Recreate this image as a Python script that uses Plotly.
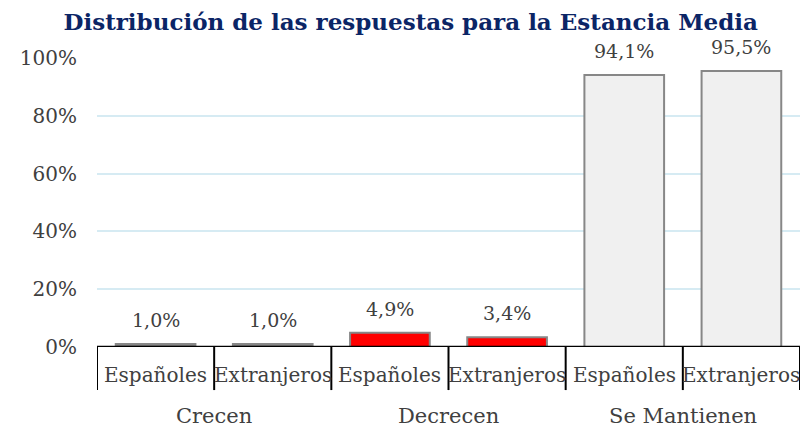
import plotly.graph_objects as go

groups = ["Crecen", "Decrecen", "Se Mantienen"]
subgroups = ["Españoles", "Extranjeros"]
values = [1.0, 1.0, 4.9, 3.4, 94.1, 95.5]
group_colors = ["#7f7f7f", "#ff0000", "#f0f0f0"]
y_ticks = [0, 20, 40, 60, 80, 100]

FONT = "DejaVu Serif"
TXT = "#404040"
n_sub = len(subgroups)
x_pos = list(range(len(values)))
sub_labels = [subgroups[i % n_sub] for i in x_pos]
colors = [group_colors[i // n_sub] for i in x_pos]
texts = [f"{v:.1f}%".replace(".", ",") for v in values]

fig = go.Figure(go.Bar(
    x=x_pos, y=values, width=0.68,
    marker=dict(color=colors, line=dict(color="#878787", width=2)),
    cliponaxis=False,
))

shapes = []
for i in range(len(values) + 1):
    shapes.append(dict(type="line", xref="x", yref="paper",
                       x0=i - 0.5, x1=i - 0.5, y0=0, y1=-0.149,
                       line=dict(color="black", width=2)))
shapes.append(dict(type="line", xref="x", yref="y", x0=-0.5, x1=len(values) - 0.5,
                   y0=0, y1=0, line=dict(color="black", width=2.5)))

annotations = []
for xi, v, t in zip(x_pos, values, texts):
    annotations.append(dict(x=xi, xref="x", y=v, yref="y", text=t, showarrow=False,
                            yanchor="bottom", yshift=11,
                            font=dict(family=FONT, size=19, color=TXT)))
for xi, s in zip(x_pos, sub_labels):
    annotations.append(dict(x=xi, xref="x", y=-0.097, yref="paper", text=s,
                            showarrow=False, yanchor="middle",
                            font=dict(family=FONT, size=20, color=TXT)))
for gi, g in enumerate(groups):
    annotations.append(dict(x=gi * n_sub + (n_sub - 1) / 2, xref="x", y=-0.238, yref="paper",
                            text=g, showarrow=False, yanchor="middle",
                            font=dict(family=FONT, size=21, color=TXT)))

fig.update_layout(
    width=812, height=434,
    margin=dict(l=89, r=20, t=50, b=95),
    paper_bgcolor="white", plot_bgcolor="white",
    title=dict(text="<b>Distribución de las respuestas para la Estancia Media</b>",
               x=0.496, xanchor="center", y=0.967, yanchor="middle",
               font=dict(family=FONT, size=23, color="#0b2566")),
    xaxis=dict(range=[-0.5, len(values) - 0.5], showticklabels=False,
               showgrid=False, zeroline=False, showline=False, ticks=""),
    yaxis=dict(range=[0, 100], tickmode="array", tickvals=y_ticks,
               ticktext=[f"{v}%" for v in y_ticks], showgrid=True,
               gridcolor="#d6ebf3", gridwidth=2, zeroline=False, showline=False,
               ticks="", ticklabelstandoff=19,
               tickfont=dict(family=FONT, size=20, color=TXT)),
    shapes=shapes, annotations=annotations, showlegend=False,
)

fig.write_html("out.html")
